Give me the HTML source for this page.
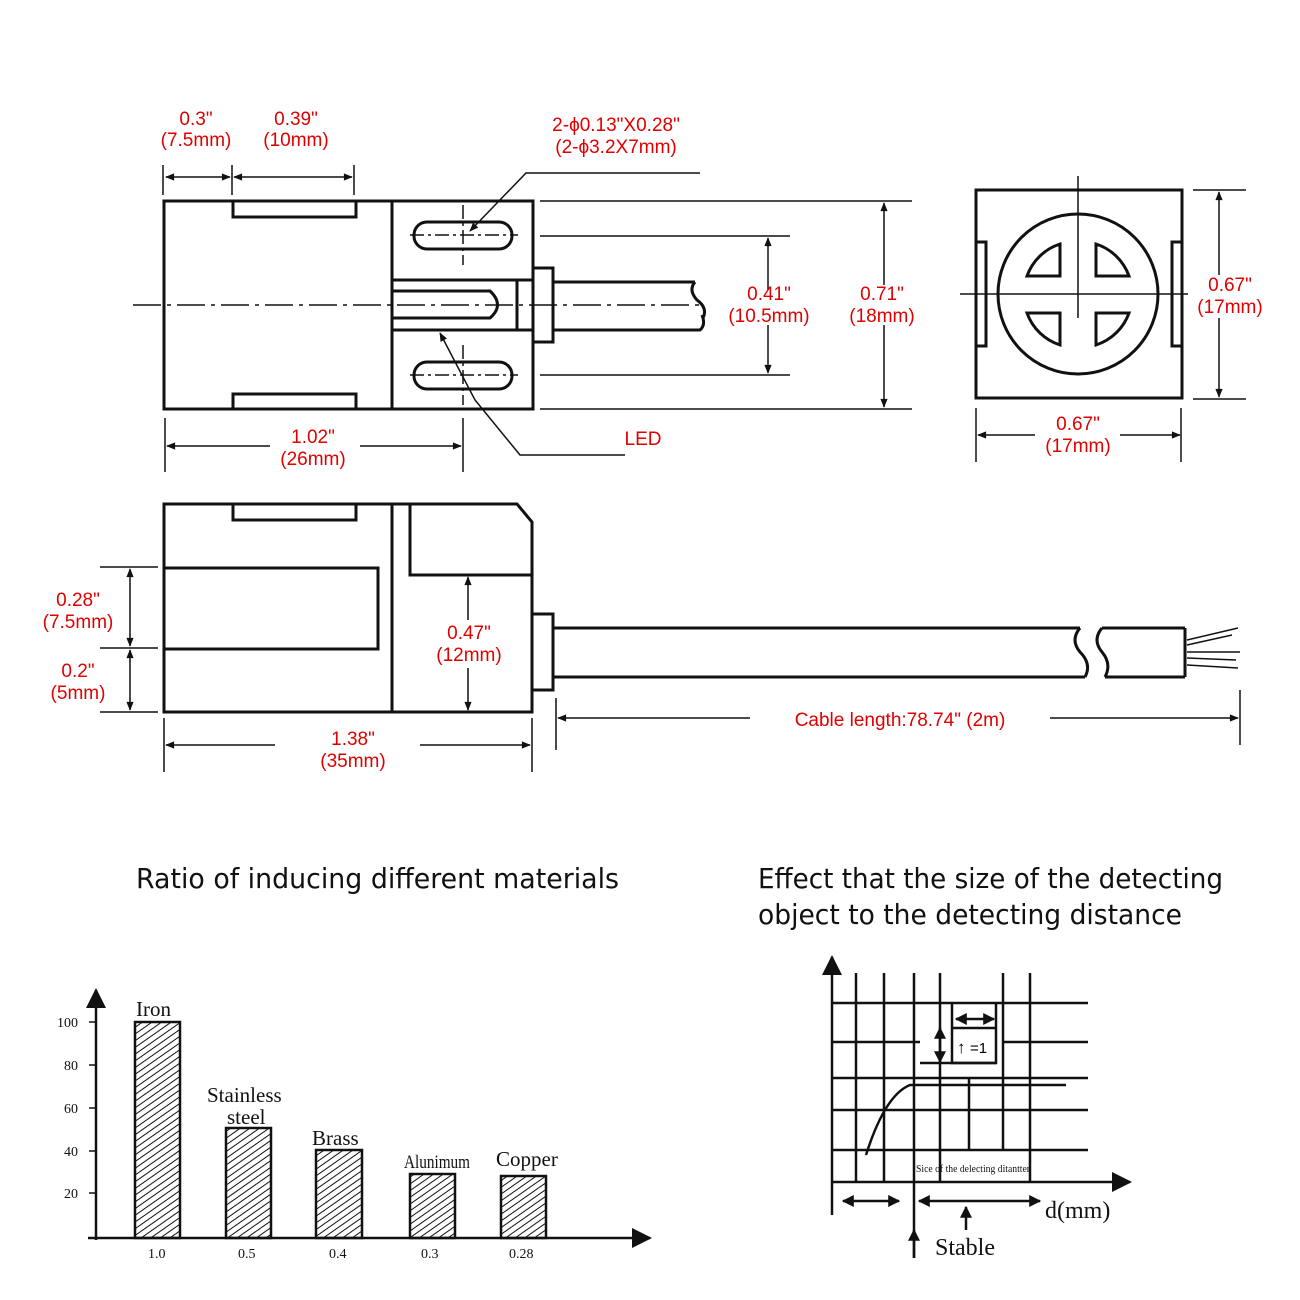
<!DOCTYPE html>
<html><head><meta charset="utf-8"><style>
html,body{margin:0;padding:0;background:#fff}
svg{display:block}
.r{fill:#e00000;font-family:"Liberation Sans",sans-serif;font-size:19px;text-anchor:middle}
.t{fill:#111;font-family:"DejaVu Sans","Liberation Sans",sans-serif;font-size:28px}
.s{fill:#111;font-family:"Liberation Serif",serif}
</style></head><body>
<svg width="1300" height="1300" viewBox="0 0 1300 1300" xmlns="http://www.w3.org/2000/svg">
<defs>
<marker id="a" viewBox="0 0 10 10" refX="9" refY="5" markerWidth="14" markerHeight="9" orient="auto-start-reverse" markerUnits="userSpaceOnUse"><path d="M0,1 L10,5 L0,9 z" fill="#111"/></marker>
<marker id="c" viewBox="0 0 10 10" refX="9" refY="5" markerWidth="12" markerHeight="12" orient="auto-start-reverse" markerUnits="userSpaceOnUse"><path d="M0,0 L10,5 L0,10 z" fill="#111"/></marker>
<marker id="b" viewBox="0 0 10 10" refX="9" refY="5" markerWidth="20" markerHeight="20" orient="auto" markerUnits="userSpaceOnUse"><path d="M0,0 L10,5 L0,10 z" fill="#111"/></marker>
<pattern id="h" width="5.5" height="5.5" patternUnits="userSpaceOnUse" patternTransform="rotate(-35)"><line x1="0" y1="0" x2="6" y2="0" stroke="#111" stroke-width="2"/></pattern>
</defs>
<g fill="none" stroke="#111" stroke-width="3">
<rect x="164" y="201" width="369" height="208"/>
<line x1="392" y1="201" x2="392" y2="409"/>
<path d="M233,201 V217 H356 V201 M233,409 V394 H356 V409"/>
<rect x="414" y="222" width="98" height="27" rx="13"/>
<rect x="414" y="362" width="98" height="27" rx="13"/>
<path d="M392,280 H533 M392,330 H533 M517,280 V330 M392,291 H490 Q505,305 490,318 H392"/>
<rect x="533" y="268" width="20" height="74"/>
<path d="M553,282 H695 M553,330 H700 Q706,325 702,315" />
<path d="M695,282 Q688,290 697,300 Q708,308 703,318"/>
</g>
<g stroke="#111" stroke-width="1.5" fill="none">
<path d="M133,305 H700" stroke-dasharray="28,6,4,6"/>
<path d="M410,235 H518 M410,375 H518" stroke-dasharray="14,4,3,4"/>
<path d="M463,205 V265 M463,345 V405" stroke-dasharray="14,4,3,4"/>
<path d="M163,165 V195 M232,165 V195 M354,165 V195"/>
<line x1="166" y1="177" x2="230" y2="177" marker-start="url(#a)" marker-end="url(#a)"/>
<line x1="234" y1="177" x2="352" y2="177" marker-start="url(#a)" marker-end="url(#a)"/>
<path d="M700,173 H526 L470,231" marker-end="url(#a)"/>
<path d="M625,455 H520 L475,400 L440,333" marker-end="url(#a)"/>
<path d="M540,201 H912 M540,236 H790 M540,375 H790 M540,409 H912"/>
<line x1="768" y1="238" x2="768" y2="290" marker-start="url(#a)"/><line x1="768" y1="325" x2="768" y2="373" marker-end="url(#a)"/>
<line x1="884" y1="203" x2="884" y2="285" marker-start="url(#a)"/><line x1="884" y1="325" x2="884" y2="407" marker-end="url(#a)"/>
<path d="M165,418 V472 M463,418 V472"/>
<line x1="167" y1="446" x2="270" y2="446" marker-start="url(#a)"/><line x1="360" y1="446" x2="461" y2="446" marker-end="url(#a)"/>
</g>
<text class="r" x="196" y="125">0.3"</text><text class="r" x="196" y="146">(7.5mm)</text>
<text class="r" x="296" y="125">0.39"</text><text class="r" x="296" y="146">(10mm)</text>
<text class="r" x="616" y="131">2-ϕ0.13"X0.28"</text><text class="r" x="616" y="153">(2-ϕ3.2X7mm)</text>
<text class="r" x="769" y="300">0.41"</text><text class="r" x="769" y="322">(10.5mm)</text>
<text class="r" x="882" y="300">0.71"</text><text class="r" x="882" y="322">(18mm)</text>
<text class="r" x="313" y="443">1.02"</text><text class="r" x="313" y="465">(26mm)</text>
<text class="r" x="643" y="445">LED</text>
<g fill="none" stroke="#111" stroke-width="3">
<rect x="976" y="190" width="206" height="208"/>
<circle cx="1078" cy="294" r="80"/>
<path d="M976,242 H986 V346 H976 M1182,242 H1172 V346 H1182"/>
<path d="M1060,244 V276 H1027 A52,52 0 0 1 1060,244 Z M1096,244 V276 H1129 A52,52 0 0 0 1096,244 Z M1060,313 V345 A52,52 0 0 1 1027,313 Z M1096,313 V345 A52,52 0 0 0 1129,313 Z"/>
</g>
<g stroke="#111" stroke-width="1.5" fill="none">
<path d="M1078,176 V318 M960,294 H1188"/>
<path d="M1193,190 H1246 M1193,399 H1246 M976,408 V462 M1181,408 V462"/>
<line x1="1219" y1="192" x2="1219" y2="275" marker-start="url(#a)"/><line x1="1219" y1="318" x2="1219" y2="397" marker-end="url(#a)"/>
<line x1="978" y1="435" x2="1035" y2="435" marker-start="url(#a)"/><line x1="1120" y1="435" x2="1180" y2="435" marker-end="url(#a)"/>
</g>
<text class="r" x="1230" y="291">0.67"</text><text class="r" x="1230" y="313">(17mm)</text>
<text class="r" x="1078" y="430">0.67"</text><text class="r" x="1078" y="452">(17mm)</text>
<g fill="none" stroke="#111" stroke-width="3">
<path d="M164,504 H517 L532,522 V712 H164 Z"/>
<line x1="392" y1="504" x2="392" y2="712"/>
<path d="M233,504 V520 H356 V504"/>
<path d="M164,568 H378 V649 H164"/>
<path d="M410,504 V575 H532"/>
<rect x="532" y="614" width="21" height="76"/>
<path d="M553,628 H1080 M553,677 H1085"/>
<path d="M1080,628 Q1070,640 1080,652 Q1092,664 1085,677"/>
<path d="M1102,628 Q1092,640 1102,652 Q1112,664 1105,677"/>
<path d="M1102,628 H1185 M1105,677 H1185 M1185,628 V677"/>
</g>
<g stroke="#111" stroke-width="1.5" fill="none">
<path d="M1187,640 L1238,628 M1187,652 L1240,652 M1187,665 L1238,668 M1187,645 L1232,635 M1187,658 L1236,660"/>
<path d="M100,567 H158 M100,648 H158 M100,712 H158 M164,718 V772 M532,718 V772 M556,698 V750 M1240,690 V745"/>
<line x1="130" y1="569" x2="130" y2="646" marker-start="url(#a)" marker-end="url(#a)"/>
<line x1="130" y1="650" x2="130" y2="710" marker-start="url(#a)" marker-end="url(#a)"/>
<line x1="468" y1="577" x2="468" y2="620" marker-start="url(#a)"/><line x1="468" y1="668" x2="468" y2="710" marker-end="url(#a)"/>
<line x1="166" y1="745" x2="275" y2="745" marker-start="url(#a)"/><line x1="420" y1="745" x2="530" y2="745" marker-end="url(#a)"/>
<line x1="558" y1="718" x2="750" y2="718" marker-start="url(#a)"/><line x1="1050" y1="718" x2="1238" y2="718" marker-end="url(#a)"/>
</g>
<text class="r" x="78" y="606">0.28"</text><text class="r" x="78" y="628">(7.5mm)</text>
<text class="r" x="78" y="677">0.2"</text><text class="r" x="78" y="699">(5mm)</text>
<text class="r" x="469" y="639">0.47"</text><text class="r" x="469" y="661">(12mm)</text>
<text class="r" x="353" y="745">1.38"</text><text class="r" x="353" y="767">(35mm)</text>
<text class="r" x="900" y="726">Cable length:78.74" (2m)</text>
<text class="t" x="136" y="888" textLength="483" lengthAdjust="spacingAndGlyphs">Ratio of inducing different materials</text>
<text class="t" x="758" y="888" textLength="465" lengthAdjust="spacingAndGlyphs">Effect that the size of the detecting</text>
<text class="t" x="758" y="924" textLength="424" lengthAdjust="spacingAndGlyphs">object to the detecting distance</text>
<g stroke="#111" stroke-width="2.5" fill="none">
<line x1="96" y1="1240" x2="96" y2="990" marker-end="url(#b)"/>
<line x1="88" y1="1238" x2="650" y2="1238" marker-end="url(#b)"/>
<path d="M89,1022H96M89,1065H96M89,1108H96M89,1151H96M89,1193H96" stroke-width="1.5"/>
<rect x="135" y="1022" width="45" height="216" fill="url(#h)"/>
<rect x="226" y="1128" width="45" height="110" fill="url(#h)"/>
<rect x="316" y="1150" width="46" height="88" fill="url(#h)"/>
<rect x="410" y="1174" width="45" height="64" fill="url(#h)"/>
<rect x="501" y="1176" width="45" height="62" fill="url(#h)"/>
</g>
<g class="s" font-size="14">
<text x="57" y="1027">100</text><text x="64" y="1070">80</text><text x="64" y="1113">60</text><text x="64" y="1156">40</text><text x="64" y="1198">20</text>
<text x="148" y="1258">1.0</text><text x="238" y="1258">0.5</text><text x="329" y="1258">0.4</text><text x="421" y="1258">0.3</text><text x="509" y="1258">0.28</text>
</g>
<g class="s" font-size="21">
<text x="136" y="1016">Iron</text><text x="207" y="1102">Stainless</text><text x="227" y="1124">steel</text>
<text x="312" y="1145">Brass</text><text x="404" y="1168" font-size="19" textLength="66" lengthAdjust="spacingAndGlyphs">Alunimum</text><text x="496" y="1166">Copper</text>
</g>
<g stroke="#111" stroke-width="2.5" fill="none">
<line x1="832" y1="1215" x2="832" y2="957" marker-end="url(#b)"/>
<line x1="832" y1="1182" x2="1130" y2="1182" marker-end="url(#b)"/>
<path d="M832,1003H1088 M832,1042H920 M1003,1042H1088 M920,1063H996 M832,1078H1088 M832,1110H1088 M832,1150H1088"/>
<path d="M856,973V1182 M884,973V1182 M914,973V1258 M940,973V1182 M1003,973V1150 M1030,973V1182 M969,1078V1150"/>
<path d="M952,1003V1063H996V1003 M952,1028H996"/>
<path d="M866,1155 Q885,1095 910,1085 H1066"/>
</g>
<g stroke="#111" stroke-width="2.5" fill="none">
<line x1="956" y1="1019" x2="994" y2="1019" marker-start="url(#c)" marker-end="url(#c)"/>
<line x1="940" y1="1028" x2="940" y2="1062" marker-start="url(#c)" marker-end="url(#c)"/>
<line x1="843" y1="1201" x2="899" y2="1201" marker-start="url(#c)" marker-end="url(#c)"/>
<line x1="919" y1="1201" x2="1040" y2="1201" marker-start="url(#c)" marker-end="url(#c)"/>
<line x1="966" y1="1230" x2="966" y2="1207" marker-end="url(#c)"/>
<line x1="914" y1="1258" x2="914" y2="1230" marker-end="url(#c)"/>
</g>
<text x="957" y="1053" font-family="Liberation Sans,sans-serif" font-size="17" font-weight="bold">↑</text>
<text x="970" y="1053" font-family="Liberation Sans,sans-serif" font-size="15">=1</text>
<text class="s" x="916" y="1172" font-size="11" textLength="114" lengthAdjust="spacingAndGlyphs">Sice of the delecting ditantter</text>
<text class="s" x="1045" y="1218" font-size="24">d(mm)</text>
<text class="s" x="935" y="1255" font-size="24">Stable</text>
</svg>
</body></html>
